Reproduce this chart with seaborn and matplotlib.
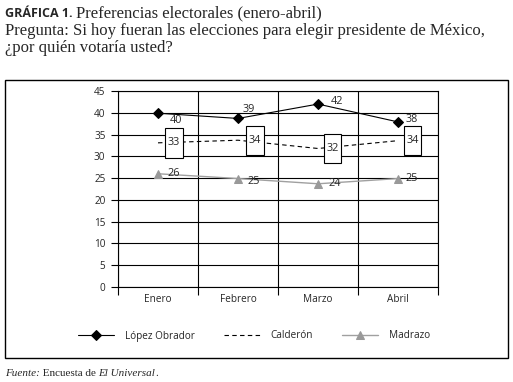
import numpy as np
import matplotlib.pyplot as plt
import seaborn as sns
from matplotlib.path import Path
from matplotlib.patches import Rectangle

# datos
meses = ["Enero", "Febrero", "Marzo", "Abril"]
lopez = [39.9, 38.7, 42.0, 37.9]
calderon = [33.1, 33.7, 31.8, 33.6]
madrazo = [26.0, 24.9, 23.7, 24.9]
lopez_etiq = ["40", "39", "42", "38"]
calderon_etiq = ["33", "34", "32", "34"]
madrazo_etiq = ["26", "25", "24", "25"]
y_ticks = list(range(0, 50, 5))

# desplazamientos de las etiquetas (puntos)
off_lopez = [(13, -5), (8, 6.5), (13.5, 2), (10, 2)]
off_calderon = [(11.5, 0), (12, 0), (10.5, 0), (10.5, 0)]
off_madrazo = [(11, 0), (11, -2), (12, 0.5), (10, 0)]

sns.set_style("white")
plt.rcParams["font.family"] = ["Open Sans", "DejaVu Sans"]
W, H = 513, 382
fig = plt.figure(figsize=(W / 100, H / 100), dpi=100)
ax = fig.add_axes([118 / W, 1 - 287 / H, 320 / W, 196 / H])

x = np.arange(len(meses))
sns.lineplot(x=x, y=lopez, ax=ax, color="black", marker="D", markersize=4.8,
             markeredgecolor="black", lw=0.8, label="López Obrador")
sns.lineplot(x=x, y=calderon, ax=ax, color="black", lw=0.8,
             linestyle=(0, (4, 3)), label="Calderón")
sns.lineplot(x=x, y=madrazo, ax=ax, color="#a0a0a0", marker="^", markersize=5.5,
             markeredgecolor="#999999", markerfacecolor="#999999", lw=1.0,
             label="Madrazo")


def caja_alta(x0, y0, width, height, mutation_size):
    px = 0.25 * mutation_size
    py = 0.85 * mutation_size
    return Path([(x0 - px, y0 - py), (x0 + width + px, y0 - py),
                 (x0 + width + px, y0 + height + py), (x0 - px, y0 + height + py),
                 (x0 - px, y0 - py)], closed=True)


for i in range(len(meses)):
    ax.annotate(lopez_etiq[i], (x[i], lopez[i]), xytext=off_lopez[i],
                textcoords="offset points", ha="center", va="center", fontsize=7.8)
    ax.annotate(madrazo_etiq[i], (x[i], madrazo[i]), xytext=off_madrazo[i],
                textcoords="offset points", ha="center", va="center", fontsize=7.8)
    ax.annotate(calderon_etiq[i], (x[i], calderon[i]), xytext=off_calderon[i],
                textcoords="offset points", ha="center", va="center", fontsize=7.8,
                bbox=dict(boxstyle=caja_alta, fc="white", ec="black", lw=0.8))

ax.set_xlim(-0.5, 3.5)
ax.set_ylim(0, 45)
ax.set_yticks(y_ticks)
ax.set_xticks(x, meses)
ax.set_xticks(np.arange(-0.5, 4, 1), minor=True)
ax.yaxis.grid(True, color="black", lw=0.8)
ax.xaxis.grid(True, which="minor", color="black", lw=0.8)
ax.xaxis.grid(False, which="major")
ax.set_axisbelow(True)
ax.tick_params(axis="x", which="major", length=0, pad=5, labelsize=7.2)
ax.tick_params(axis="x", which="minor", bottom=True, length=6, width=0.8,
               color="black", direction="out")
ax.tick_params(axis="y", left=True, length=5, width=0.8, color="black",
               direction="out", pad=4, labelsize=7.2)
for s in ax.spines.values():
    s.set_color("black")
    s.set_linewidth(0.8)
ax.set_xlabel("")
ax.set_ylabel("")

handles, labels = ax.get_legend_handles_labels()
ax.get_legend().remove()
fig.legend(handles, labels, loc="center", bbox_to_anchor=(254 / W, 1 - 336 / H),
           ncol=3, frameon=False, fontsize=7.2, handlelength=3.6,
           handletextpad=1.1, columnspacing=2.9)

# marco
fig.add_artist(Rectangle((5 / W, 1 - 358 / H), 503 / W, 278 / H,
                         transform=fig.transFigure, fill=False, ec="black", lw=1))

# titulo
serif = ["Liberation Serif", "DejaVu Serif"]
t1 = fig.text(5 / W, 1 - 17 / H, "GRÁFICA 1.", fontsize=9, weight="bold",
              va="baseline")
fig.canvas.draw()
x1 = t1.get_window_extent().x1
fig.text((x1 + 3) / W, 1 - 17 / H, "Preferencias electorales (enero-abril)",
         family=serif, fontsize=12, va="baseline")
fig.text(5 / W, 1 - 35 / H,
         "Pregunta: Si hoy fueran las elecciones para elegir presidente de México,",
         family=serif, fontsize=12, va="baseline")
fig.text(5 / W, 1 - 52 / H, "¿por quién votaría usted?", family=serif,
         fontsize=12, va="baseline")

# fuente
partes = [("Fuente:", "italic"), (" Encuesta de ", "normal"),
          ("El Universal", "italic"), (".", "normal")]
xp = 5
for txt, est in partes:
    t = fig.text(xp / W, 1 - 376 / H, txt, family=serif, fontsize=8,
                 style=est, va="baseline")
    fig.canvas.draw()
    xp = t.get_window_extent().x1

fig.savefig("out.png", dpi=100)
